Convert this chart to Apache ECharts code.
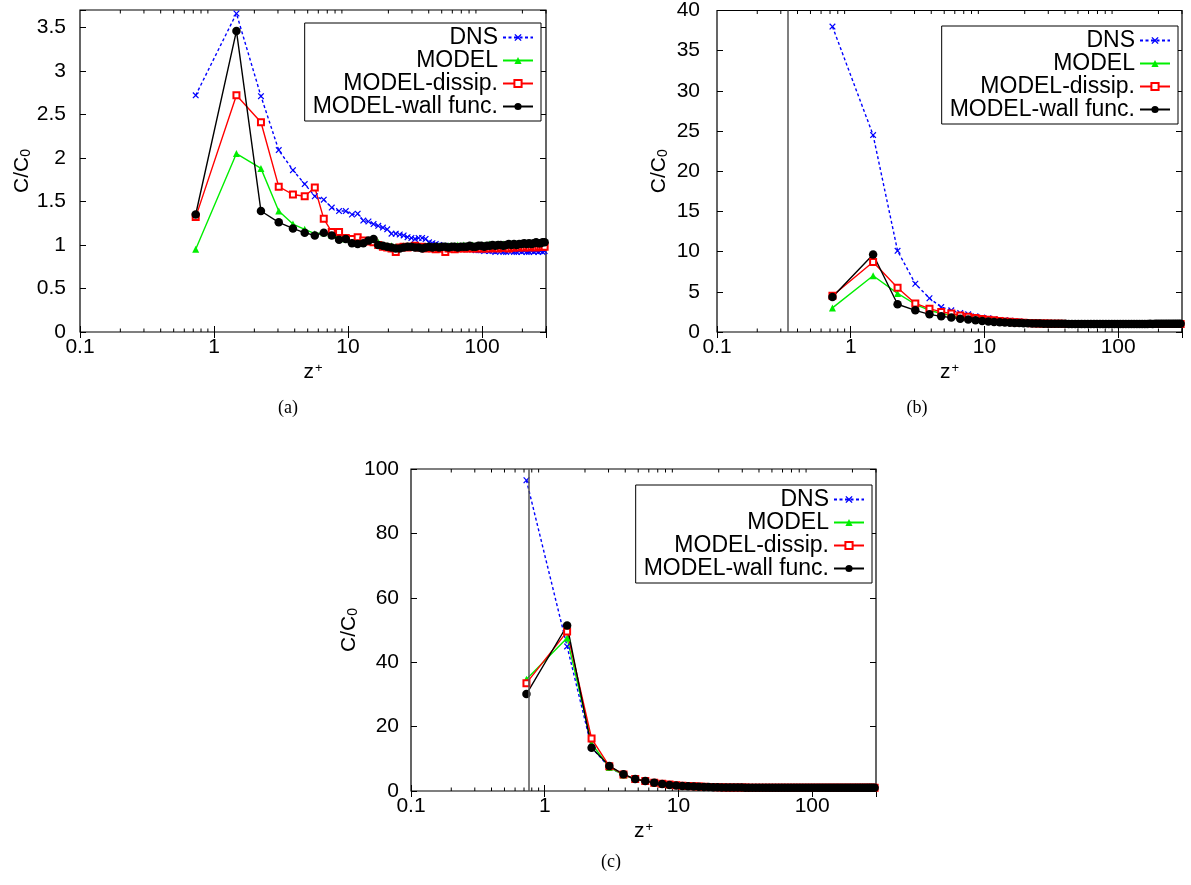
<!DOCTYPE html>
<html><head><meta charset="utf-8">
<script src="https://cdn.jsdelivr.net/npm/echarts@6/dist/echarts.min.js"></script>
<style>html,body{margin:0;padding:0;background:#fff}#c{width:1191px;height:885px}</style>
</head><body><div id="c"></div>
<script>
// ---------- data ----------
const zPlus = [
 0.73, 1.47, 2.24, 3.04, 3.88, 4.75, 5.65, 6.59, 7.56, 8.57, 9.62, 10.7,
 11.8, 13.0, 14.2, 15.5, 16.8, 18.2, 19.6, 21.1, 22.7, 24.3, 26.0, 27.8,
 29.7, 31.6, 33.6, 35.7, 37.9, 40.2, 42.6, 45.1, 47.7, 50.4, 53.2, 56.2,
 59.3, 62.5, 65.9, 69.4, 73.1, 76.9, 80.9, 85.1, 89.5, 94.0, 98.8, 103.7,
 108.9, 114.2, 119.8, 125.6, 131.6, 137.9, 144.4, 151.2, 158.2, 165.5, 173.1, 181.0,
 189.1, 197.5, 206.2, 215.1, 224.3, 233.7, 243.3, 253.1, 263.0, 273.0, 283.0, 293.0];

const seriesNames = ['DNS', 'MODEL', 'MODEL-dissip.', 'MODEL-wall func.'];
const xTickLabels = ['0.1', '1', '10', '100'];
const minorTickValues = [0.2,0.3,0.4,0.5,0.6,0.7,0.8,0.9, 2,3,4,5,6,7,8,9, 20,30,40,50,60,70,80,90, 200,300];
const captions = ['(a)', '(b)', '(c)'];

// panel (a)
const aDNS = [
 2.72, 3.66, 2.71, 2.09, 1.86, 1.70, 1.56, 1.52, 1.43, 1.39, 1.39, 1.35,
 1.36, 1.28, 1.27, 1.24, 1.22, 1.20, 1.18, 1.13, 1.13, 1.12, 1.11, 1.09,
 1.08, 1.07, 1.08, 1.08, 1.07, 1.03, 1.02, 1.01, 1.00, 0.99, 0.99, 0.98,
 0.98, 0.97, 0.97, 0.96, 0.96, 0.95, 0.95, 0.95, 0.94, 0.94, 0.94, 0.93,
 0.94, 0.93, 0.93, 0.92, 0.93, 0.93, 0.92, 0.92, 0.93, 0.93, 0.92, 0.92,
 0.93, 0.92, 0.93, 0.92, 0.92, 0.93, 0.92, 0.93, 0.92, 0.93, 0.92, 0.93];
const aModel = [
 0.95, 2.05, 1.88, 1.39, 1.24, 1.18, 1.13, 1.14, 1.11, 1.09, 1.07, 1.05,
 1.05, 1.04, 1.05, 1.06, 1.03, 1.00, 0.99, 0.99, 0.98, 0.98, 0.99, 0.99,
 0.98, 0.98, 0.97, 0.98, 0.98, 0.99, 0.98, 0.98, 0.99, 0.98, 0.99, 0.99,
 0.99, 0.99, 1.00, 0.99, 1.00, 0.99, 1.00, 1.00, 0.99, 1.00, 1.00, 1.00,
 1.00, 1.01, 1.00, 1.00, 1.01, 1.00, 1.01, 1.00, 1.01, 1.01, 1.00, 1.01,
 1.01, 1.01, 1.02, 1.01, 1.01, 1.02, 1.01, 1.02, 1.02, 1.01, 1.02, 1.02];
const aDissip = [
 1.32, 2.72, 2.41, 1.67, 1.58, 1.56, 1.66, 1.30, 1.15, 1.15, 1.08, 1.07,
 1.09, 1.05, 1.04, 1.03, 1.00, 0.98, 0.97, 0.96, 0.92, 0.97, 0.98, 0.97,
 0.98, 0.99, 0.97, 0.98, 0.96, 0.97, 0.96, 0.95, 0.96, 0.96, 0.92, 0.96,
 0.96, 0.95, 0.96, 0.97, 0.96, 0.96, 0.97, 0.96, 0.96, 0.97, 0.96, 0.96,
 0.97, 0.96, 0.97, 0.97, 0.96, 0.97, 0.97, 0.97, 0.96, 0.97, 0.97, 0.98,
 0.97, 0.98, 0.97, 0.98, 0.97, 0.98, 0.98, 0.97, 0.98, 0.98, 0.98, 0.98];
const aWall = [
 1.35, 3.46, 1.39, 1.26, 1.19, 1.14, 1.11, 1.14, 1.11, 1.06, 1.07, 1.02,
 1.01, 1.02, 1.05, 1.07, 1.00, 0.99, 0.98, 0.97, 0.96, 0.96, 0.97, 0.98,
 0.98, 0.97, 0.97, 0.96, 0.97, 0.98, 0.97, 0.98, 0.97, 0.98, 0.98, 0.97,
 0.98, 0.98, 0.97, 0.98, 0.98, 0.98, 0.99, 0.98, 0.98, 0.99, 0.99, 0.98,
 0.99, 0.99, 1.00, 0.99, 1.00, 1.00, 0.99, 1.00, 1.01, 1.00, 1.01, 1.00,
 1.01, 1.01, 1.02, 1.01, 1.02, 1.01, 1.02, 1.03, 1.02, 1.02, 1.03, 1.03];

// panel (b)
const bDNS = [
 38.0, 24.5, 10.1, 6.0, 4.2, 3.1, 2.7, 2.35, 2.2, 1.95, 1.8, 1.7,
 1.6, 1.5, 1.45, 1.4, 1.35, 1.3, 1.25, 1.2, 1.18, 1.15, 1.12, 1.1,
 1.08, 1.06, 1.05, 1.04, 1.03, 1.02, 1.0, 1.0, 0.99, 0.98, 0.98, 0.97,
 0.97, 0.96, 0.96, 0.96, 0.95, 0.95, 0.95, 0.95, 0.94, 0.94, 0.94, 0.94,
 0.94, 0.94, 0.93, 0.93, 0.93, 0.93, 0.93, 0.93, 0.93, 0.93, 0.92, 0.92,
 0.92, 0.92, 0.92, 0.92, 0.92, 0.92, 0.92, 0.92, 0.92, 0.92, 0.92, 0.92];
const bModel = [
 3.0, 7.0, 4.8, 3.45, 2.7, 2.3, 2.05, 1.85, 1.7, 1.6, 1.5, 1.42,
 1.35, 1.3, 1.25, 1.2, 1.17, 1.14, 1.12, 1.1, 1.08, 1.06, 1.05, 1.04,
 1.03, 1.02, 1.02, 1.01, 1.01, 1.0, 1.0, 1.0, 1.0, 1.0, 1.0, 1.0,
 1.0, 1.0, 1.0, 1.0, 1.0, 1.0, 1.0, 1.0, 1.0, 1.0, 1.0, 1.0,
 1.0, 1.0, 1.0, 1.0, 1.01, 1.0, 1.01, 1.0, 1.01, 1.01, 1.01, 1.01,
 1.01, 1.01, 1.01, 1.01, 1.01, 1.01, 1.01, 1.01, 1.01, 1.01, 1.01, 1.01];
const bDissip = [
 4.5, 8.7, 5.5, 3.55, 2.9, 2.5, 2.3, 2.05, 1.9, 1.75, 1.62, 1.52,
 1.45, 1.38, 1.32, 1.27, 1.22, 1.18, 1.15, 1.12, 1.1, 1.08, 1.07, 1.06,
 1.05, 1.04, 1.03, 1.02, 1.02, 1.01, 1.01, 1.0, 1.0, 1.0, 1.0, 1.0,
 1.0, 1.0, 0.99, 1.0, 0.99, 1.0, 0.99, 0.99, 1.0, 0.99, 0.99, 0.99,
 0.99, 0.99, 0.99, 0.99, 0.99, 0.99, 0.99, 0.99, 0.99, 0.99, 0.99, 0.99,
 0.99, 0.99, 0.99, 0.99, 0.99, 0.99, 0.99, 0.99, 0.99, 0.99, 0.99, 0.99];
const bWall = [
 4.35, 9.65, 3.45, 2.7, 2.2, 1.95, 1.8, 1.66, 1.55, 1.45, 1.37, 1.3,
 1.25, 1.21, 1.18, 1.15, 1.13, 1.11, 1.09, 1.08, 1.07, 1.06, 1.05, 1.04,
 1.04, 1.03, 1.03, 1.02, 1.02, 1.02, 1.01, 1.01, 1.01, 1.01, 1.01, 1.0,
 1.0, 1.0, 1.0, 1.0, 1.0, 1.0, 1.0, 1.0, 1.0, 1.0, 1.0, 1.0,
 1.0, 1.0, 1.01, 1.0, 1.01, 1.01, 1.01, 1.01, 1.01, 1.01, 1.02, 1.01,
 1.02, 1.02, 1.02, 1.02, 1.02, 1.03, 1.02, 1.03, 1.03, 1.03, 1.03, 1.03];

// panel (c)
const cDNS = [
 96.5, 44.9, 13.5, 7.4, 4.9, 3.7, 3.0, 2.5, 2.2, 1.95, 1.8, 1.65,
 1.55, 1.45, 1.38, 1.32, 1.26, 1.22, 1.18, 1.15, 1.12, 1.1, 1.08, 1.06,
 1.05, 1.04, 1.03, 1.02, 1.01, 1.0, 1.0, 0.99, 0.99, 0.98, 0.98, 0.97,
 0.97, 0.97, 0.96, 0.96, 0.96, 0.96, 0.96, 0.95, 0.95, 0.95, 0.95, 0.95,
 0.95, 0.95, 0.95, 0.95, 0.94, 0.94, 0.94, 0.94, 0.94, 0.94, 0.94, 0.94,
 0.94, 0.94, 0.94, 0.94, 0.94, 0.94, 0.94, 0.94, 0.94, 0.94, 0.94, 0.94];
const cModel = [
 34.7, 47.5, 14.8, 7.3, 5.0, 3.6, 3.0, 2.5, 2.2, 1.95, 1.75, 1.6,
 1.5, 1.42, 1.35, 1.3, 1.25, 1.2, 1.17, 1.14, 1.11, 1.09, 1.07, 1.06,
 1.05, 1.04, 1.03, 1.02, 1.02, 1.01, 1.01, 1.0, 1.0, 1.0, 1.0, 1.0,
 1.0, 1.0, 1.0, 1.0, 1.0, 1.0, 1.0, 1.0, 1.0, 1.0, 1.0, 1.0,
 1.0, 1.0, 1.0, 1.0, 1.0, 1.0, 1.0, 1.0, 1.0, 1.0, 1.0, 1.0,
 1.0, 1.0, 1.0, 1.0, 1.0, 1.0, 1.0, 1.0, 1.0, 1.0, 1.0, 1.0];
const cDissip = [
 33.5, 49.5, 16.3, 7.7, 5.1, 3.7, 3.1, 2.6, 2.25, 2.0, 1.8, 1.65,
 1.55, 1.46, 1.39, 1.33, 1.27, 1.22, 1.18, 1.15, 1.12, 1.1, 1.08, 1.07,
 1.06, 1.05, 1.04, 1.03, 1.02, 1.02, 1.01, 1.01, 1.0, 1.0, 1.0, 1.0,
 1.0, 1.0, 1.0, 1.0, 1.0, 1.0, 1.0, 1.0, 1.0, 1.0, 1.0, 1.0,
 1.0, 1.0, 1.0, 1.0, 1.0, 1.0, 1.0, 1.0, 1.0, 1.0, 1.0, 1.0,
 1.0, 1.0, 1.0, 1.0, 1.0, 1.0, 1.0, 1.0, 1.0, 1.0, 1.0, 1.0];
const cWall = [
 30.1, 51.4, 13.4, 7.8, 5.2, 3.7, 3.1, 2.6, 2.2, 1.9, 1.7, 1.55,
 1.45, 1.38, 1.32, 1.27, 1.22, 1.18, 1.15, 1.12, 1.1, 1.08, 1.07, 1.06,
 1.05, 1.04, 1.03, 1.03, 1.02, 1.02, 1.01, 1.01, 1.01, 1.01, 1.0, 1.0,
 1.0, 1.0, 1.0, 1.0, 1.0, 1.0, 1.0, 1.0, 1.0, 1.0, 1.0, 1.0,
 1.0, 1.0, 1.0, 1.0, 1.01, 1.01, 1.01, 1.01, 1.01, 1.01, 1.01, 1.01,
 1.01, 1.01, 1.02, 1.02, 1.02, 1.02, 1.02, 1.02, 1.02, 1.02, 1.02, 1.02];

const yMaxes = [3.7, 40, 100];
const yIntervals = [0.5, 5, 20];
const vLines = [null, 0.338, 0.755];

// ---------- chart ----------
const FONT = 'Liberation Sans';
const xPath = 'path://M0,1.3L1.3,0L5,3.7L8.7,0L10,1.3L6.3,5L10,8.7L8.7,10L5,6.3L1.3,10L0,8.7L3.7,5Z';
const styles = [
  {color: '#0000ff', symbol: xPath, size: 6.5, type: [3, 2.5]},
  {color: '#00ee00', symbol: 'triangle', size: 7, type: 'solid'},
  {color: '#ff0000', symbol: 'emptyRect', size: 6, type: 'solid'},
  {color: '#000000', symbol: 'circle', size: 8.5, type: 'solid'}
];
const panelData = [[aDNS, aModel, aDissip, aWall], [bDNS, bModel, bDissip, bWall], [cDNS, cModel, cDissip, cWall]];
const grids = [
  {left: 80, top: 10, width: 466, height: 322},
  {left: 717, top: 10, width: 465, height: 322},
  {left: 411, top: 469, width: 465, height: 322}
];
const legendPos = [{right: 650, top: 23}, {right: 13, top: 26}, {right: 319, top: 485}];
const yNameGap = [39, 47, 47];
const yLabelMargin = [14, 17, 12];
const captionPos = [[288, 408], [917, 408], [611, 862]];

const isPow10 = v => Math.abs(Math.log10(v) - Math.round(Math.log10(v))) < 1e-6;

const xAxes = [], yAxes = [], series = [], legends = [], graphics = [];
grids.forEach((g, p) => {
  const yMax = yMaxes[p], yInt = yIntervals[p];
  xAxes.push({
    type: 'log', logBase: 10, gridIndex: p, min: 0.1, max: 300, position: 'bottom',
    axisLine: {show: false}, splitLine: {show: false},
    axisTick: {inside: true, length: 6, lineStyle: {color: '#000', width: 1}},
    axisLabel: {color: '#000', fontFamily: FONT, fontSize: 21, margin: 5,
      formatter: v => isPow10(v) ? xTickLabels[Math.round(Math.log10(v)) + 1] : ''},
    name: 'z{sup|+}', nameLocation: 'middle', nameGap: 30,
    nameTextStyle: {color: '#000', fontFamily: FONT, fontSize: 21,
      rich: {sup: {fontSize: 13, fontFamily: FONT, color: '#000', verticalAlign: 'top', padding: [0, 0, 8, 1]}}}
  });
  xAxes.push({
    type: 'log', logBase: 10, gridIndex: p, min: 0.1, max: 300, position: 'top',
    axisLine: {show: false}, splitLine: {show: false}, axisLabel: {show: false},
    axisTick: {inside: true, length: 6, lineStyle: {color: '#000', width: 1}}
  });
  const yFmt = v => (Math.abs(v / yInt - Math.round(v / yInt)) < 1e-6) ? String(+v.toFixed(2)) : '';
  yAxes.push({
    type: 'value', gridIndex: p, min: 0, max: yMax, interval: yInt, position: 'left',
    axisLine: {show: false}, splitLine: {show: false},
    axisTick: {inside: true, length: 6, lineStyle: {color: '#000', width: 1}},
    axisLabel: {color: '#000', fontFamily: FONT, fontSize: 21, margin: yLabelMargin[p], formatter: yFmt},
    name: 'C/C{sub|0}', nameLocation: 'middle', nameRotate: 90, nameGap: yNameGap[p],
    nameTextStyle: {color: '#000', fontFamily: FONT, fontSize: 21,
      rich: {sub: {fontSize: 14, fontFamily: FONT, color: '#000', verticalAlign: 'bottom', padding: [8, 0, 0, 0]}}}
  });
  yAxes.push({
    type: 'value', gridIndex: p, min: 0, max: yMax, interval: yInt, position: 'right',
    axisLine: {show: false}, splitLine: {show: false}, axisLabel: {show: false},
    axisTick: {inside: true, length: 6, lineStyle: {color: '#000', width: 1}}
  });

  panelData[p].forEach((vals, s) => {
    const st = styles[s];
    const ser = {
      type: 'line', name: seriesNames[s], xAxisIndex: 2 * p, yAxisIndex: 2 * p,
      data: zPlus.map((z, i) => [z, vals[i]]),
      symbol: st.symbol, symbolSize: st.size, showSymbol: true, showAllSymbol: true,
      lineStyle: {color: st.color, width: 1.4, type: st.type},
      itemStyle: {color: st.color, borderColor: st.color, borderWidth: st.symbol === 'emptyRect' ? 1.2 : 0},
      animation: false, silent: true, clip: true
    };
    if (s === 0 && vLines[p] != null) {
      ser.markLine = {silent: true, symbol: 'none', label: {show: false}, animation: false,
        lineStyle: {color: '#555', width: 1.5, type: 'solid'}, data: [{xAxis: vLines[p]}]};
    }
    series.push(ser);
  });

  // minor log ticks (bottom and top)
  series.push({
    type: 'custom', xAxisIndex: 2 * p, yAxisIndex: 2 * p, silent: true, animation: false, clip: false,
    data: minorTickValues.map(v => [v, 0]),
    encode: {x: 0, y: 1},
    renderItem: (params, api) => {
      const v = api.value(0);
      const b = api.coord([v, 0]);
      const t = api.coord([v, yMax]);
      return {type: 'group', children: [
        {type: 'line', shape: {x1: b[0], y1: b[1], x2: b[0], y2: b[1] - 3.5}, style: {stroke: '#000', lineWidth: 1}},
        {type: 'line', shape: {x1: t[0], y1: t[1], x2: t[0], y2: t[1] + 3.5}, style: {stroke: '#000', lineWidth: 1}}
      ]};
    }
  });

  legends.push({
    data: seriesNames, orient: 'vertical', align: 'right', right: legendPos[p].right, top: legendPos[p].top,
    itemWidth: 30, itemHeight: 9, itemGap: 0, padding: [3, 7, 3, 8],
    borderColor: '#000', borderWidth: 1, backgroundColor: '#fff', selectedMode: false,
    textStyle: {fontFamily: FONT, fontSize: 23, color: '#000', lineHeight: 21.4}
  });

  graphics.push({type: 'text', x: captionPos[p][0], y: captionPos[p][1], silent: true,
    style: {text: captions[p], font: '18px "Liberation Serif"', fill: '#000', align: 'center', verticalAlign: 'middle'}});
});

const chart = echarts.init(document.getElementById('c'), null, {renderer: 'canvas'});
chart.setOption({
  backgroundColor: '#fff',
  animation: false,
  grid: grids.map(g => Object.assign({show: true, borderColor: '#000', borderWidth: 1.2, backgroundColor: 'transparent', containLabel: false}, g)),
  xAxis: xAxes, yAxis: yAxes, series: series, legend: legends, graphic: graphics
});
</script></body></html>
